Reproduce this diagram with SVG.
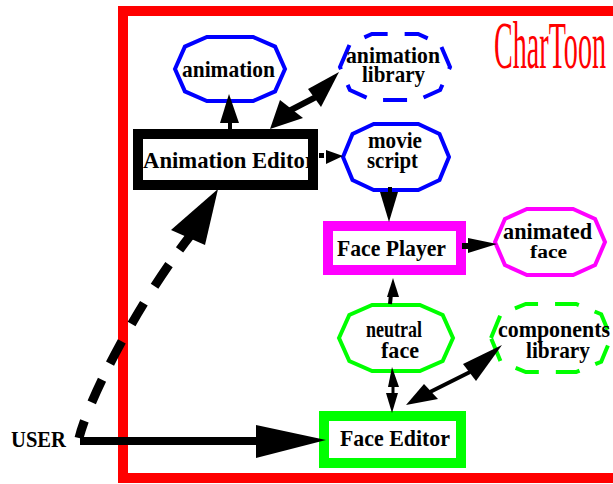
<svg xmlns="http://www.w3.org/2000/svg" width="613" height="484" viewBox="0 0 613 484">
<style>
.t{font-family:"Liberation Serif","Times New Roman",serif;font-weight:bold;font-size:23px;fill:#000}
.oct{fill:#fff;stroke-width:4;stroke-linejoin:miter}
.dash{stroke-dasharray:24 17}
.box{fill:#fff;stroke-width:10}
.ah{fill:#000;stroke:none}
.ln{stroke:#000;fill:none}
</style>
<rect width="613" height="484" fill="#fff"/>
<g id="frame">
<rect x="123" y="11" width="500" height="467" fill="none" stroke="#ff0000" stroke-width="10"/>
<text x="494" y="68" font-family="Liberation Serif,serif" font-size="68" fill="#ff0000" textLength="112" lengthAdjust="spacingAndGlyphs">CharToon</text>
</g>
<g id="user"><text class="t" x="11" y="447" textLength="55" lengthAdjust="spacingAndGlyphs">USER</text></g>
<g id="animation">
<polygon class="oct" stroke="#0000ff" points="175,69 184.9,46.6 206.9,37 253.1,37 275.1,46.6 285,69 275.1,91.4 253.1,101 206.9,101 184.9,91.4"/>
<text class="t" x="182" y="77" textLength="93" lengthAdjust="spacingAndGlyphs">animation</text>
</g>
<g id="animation-library">
<polygon class="oct dash" stroke="#0000ff" points="340,67 349.9,43.9 371.9,34 418.1,34 440.1,43.9 450,67 440.1,90.1 418.1,100 371.9,100 349.9,90.1"/>
<text class="t" x="346" y="63" textLength="94" lengthAdjust="spacingAndGlyphs">animation</text>
<text class="t" x="362" y="82" textLength="63" lengthAdjust="spacingAndGlyphs">library</text>
</g>
<g id="animation-editor">
<rect x="138" y="134" width="175" height="51" fill="#fff"/>
<text class="t" x="143" y="168" textLength="172" lengthAdjust="spacingAndGlyphs">Animation Editor</text>
<rect x="138" y="134" width="175" height="51" fill="none" stroke="#000" stroke-width="10"/>
</g>
<g id="movie-script">
<polygon class="oct" stroke="#0000ff" points="343,157 352.5,133.9 373.7,124 418.3,124 439.5,133.9 449,157 439.5,180.1 418.3,190 373.7,190 352.5,180.1"/>
<text class="t" x="368" y="148" textLength="54" lengthAdjust="spacingAndGlyphs">movie</text>
<text class="t" x="367" y="168" textLength="51" lengthAdjust="spacingAndGlyphs">script</text>
</g>
<g id="face-player">
<rect class="box" x="328" y="226" width="133" height="44" stroke="#ff00ff"/>
<text class="t" x="337" y="256" textLength="109" lengthAdjust="spacingAndGlyphs">Face Player</text>
</g>
<g id="animated-face">
<polygon class="oct" stroke="#ff00ff" points="495,242 504.9,218.9 526.9,209 573.1,209 595.1,218.9 605,242 595.1,265.1 573.1,275 526.9,275 504.9,265.1"/>
<text class="t" x="503" y="239" textLength="89" lengthAdjust="spacingAndGlyphs">animated</text>
<text class="t" x="530" y="258" style="font-size:18px" textLength="37" lengthAdjust="spacingAndGlyphs">face</text>
</g>
<g id="neutral-face">
<polygon class="oct" stroke="#00ff00" points="339,338 349.3,314.9 372.1,305 419.9,305 442.7,314.9 453,338 442.7,361.1 419.9,371 372.1,371 349.3,361.1"/>
<text class="t" x="366" y="337" textLength="56" lengthAdjust="spacingAndGlyphs">neutral</text>
<text class="t" x="381" y="358" textLength="38" lengthAdjust="spacingAndGlyphs">face</text>
</g>
<g id="components-library">
<polygon class="oct dash" stroke="#00ff00" points="491,338 500.8,314.2 525.8,304 576.2,304 601.2,314.2 611,338 601.2,361.8 576.2,372 525.8,372 500.8,361.8"/>
<text class="t" x="498" y="337" textLength="112" lengthAdjust="spacingAndGlyphs">components</text>
<text class="t" x="526" y="358" textLength="64" lengthAdjust="spacingAndGlyphs">library</text>
</g>
<g id="face-editor">
<rect class="box" x="324" y="416" width="137" height="47" stroke="#00ff00" stroke-width="11"/>
<text class="t" x="340" y="446" textLength="110" lengthAdjust="spacingAndGlyphs">Face Editor</text>
</g>
<g id="connectors">
<line class="ln" x1="80" y1="441" x2="262" y2="441" stroke-width="8"/>
<polygon class="ah" points="256,425 326,440 256,458"/>
<path class="ln" d="M79,438 C90,395 140,300 190,236" stroke-width="9" stroke-dasharray="18 20 25 18 25 20 24 20 26 18 40"/>
<polygon class="ah" points="218,189 171,230 205,245"/>
<line class="ln" x1="230" y1="120" x2="230" y2="130" stroke-width="4"/>
<polygon class="ah" points="229,94 220,123 239,123"/>
<line class="ln" x1="289" y1="111" x2="316" y2="97" stroke-width="6"/>
<polygon class="ah" points="339,72 308,89 321,107"/>
<polygon class="ah" points="270,129 280,100 303,118"/>
<rect class="ah" x="319" y="153" width="5" height="5"/>
<polygon class="ah" points="326,150 343,156 326,164"/>
<line class="ln" x1="390" y1="187" x2="390" y2="194" stroke-width="4"/>
<polygon class="ah" points="380,192 398,192 389,222"/>
<line class="ln" x1="462" y1="246" x2="471" y2="246" stroke-width="6"/>
<polygon class="ah" points="468,238 497,244 468,253"/>
<line class="ln" x1="391" y1="294" x2="390" y2="304" stroke-width="4"/>
<polygon class="ah" points="393,278 387,297 399,297"/>
<line class="ln" x1="393" y1="385" x2="393" y2="395" stroke-width="3"/>
<polygon class="ah" points="392,367 388,387 399,387"/>
<polygon class="ah" points="386,393 398,393 392,413"/>
<line class="ln" x1="430" y1="392" x2="470" y2="372" stroke-width="4"/>
<polygon class="ah" points="502,345 463,364 476,381"/>
<polygon class="ah" points="406,405 424,384 438,399"/>
</g>
</svg>
